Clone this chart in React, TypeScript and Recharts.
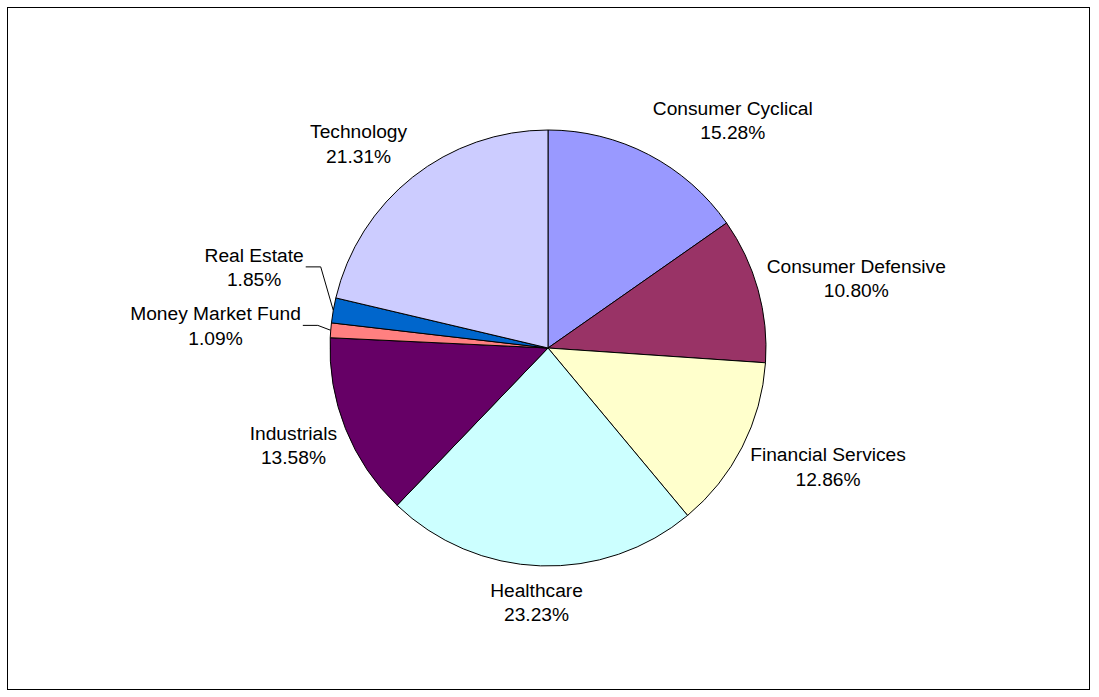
import React from "react";
import { Cell, Pie, PieChart } from "recharts";

const sectors = [
  "Consumer Cyclical",
  "Consumer Defensive",
  "Financial Services",
  "Healthcare",
  "Industrials",
  "Money Market Fund",
  "Real Estate",
  "Technology",
];
const weights = [15.28, 10.8, 12.86, 23.23, 13.58, 1.09, 1.85, 21.31];
const colors = ["#9999FF", "#993366", "#FFFFCC", "#CCFFFF", "#660066", "#FF8080", "#0066CC", "#CCCCFF"];

const data = sectors.map((name, i) => ({ name, value: weights[i] }));

const FONT_SIZE = 19.2;
const FONT_FAMILY = '"Liberation Sans", Arial, sans-serif';
const BOX_H = 46.5;
const RAD = Math.PI / 180;

let ctx: CanvasRenderingContext2D | null = null;
function textWidth(s: string) {
  if (!ctx) ctx = document.createElement("canvas").getContext("2d");
  if (!ctx) return s.length * 9.5;
  ctx.font = `${FONT_SIZE}px ${FONT_FAMILY}`;
  return ctx.measureText(s).width;
}

const clamp = (v: number) => Math.max(-1, Math.min(1, v));

type Box = { left: number; right: number; top: number; bottom: number; side: number };
const placed: Box[] = [];

function SliceLabel(props: any) {
  const { cx, cy, midAngle, outerRadius, index, name, value, percent } = props;
  const ux = Math.cos(midAngle * RAD);
  const uy = -Math.sin(midAngle * RAD);
  const px = cx + outerRadius * ux;
  const py = cy + outerRadius * uy;
  const small = percent < 0.025;
  const gapX = small ? 30 : 9;
  const gapY = small ? 30 : 13;
  const pct = `${Number(value).toFixed(2)}%`;
  const w = Math.max(textWidth(name), textWidth(pct));
  const bx = px + gapX * ux + (w / 2) * clamp(ux * 2.2);
  let by = py + gapY * uy + (BOX_H / 2) * clamp(uy * 1.3);
  const side = ux < 0 ? -1 : 1;

  // push apart from the previous label when they overlap
  const prev = index > 0 ? placed[index - 1] : undefined;
  if (prev && prev.side === side) {
    const hOverlap = bx - w / 2 < prev.right && bx + w / 2 > prev.left;
    if (hOverlap) {
      if (side < 0 && by + BOX_H / 2 > prev.top - 12) by = prev.top - 12 - BOX_H / 2;
      if (side > 0 && by - BOX_H / 2 < prev.bottom + 12) by = prev.bottom + 12 + BOX_H / 2;
    }
  }
  const top = by - BOX_H / 2;
  placed[index] = { left: bx - w / 2, right: bx + w / 2, top, bottom: by + BOX_H / 2, side };

  const edge = bx - side * (w / 2 + 2);
  return (
    <g>
      {small && (
        <polyline
          points={`${edge},${by} ${edge - side * 15},${by} ${px},${py}`}
          fill="none"
          stroke="#000"
          strokeWidth={1}
        />
      )}
      <text textAnchor="middle" fontFamily={FONT_FAMILY} fontSize={FONT_SIZE} fill="#000">
        <tspan x={bx} y={top + 18}>
          {name}
        </tspan>
        <tspan x={bx} y={top + 42.5}>
          {pct}
        </tspan>
      </text>
    </g>
  );
}

export default function App() {
  return (
    <div style={{ position: "absolute", left: 0, top: 0, width: 1099, height: 697, background: "#fff" }}>
      <div
        style={{
          position: "absolute",
          left: 7,
          top: 7,
          width: 1083,
          height: 683,
          border: "1px solid #000",
          boxSizing: "border-box",
        }}
      />
      <PieChart width={1099} height={697} margin={{ top: 0, right: 0, bottom: 0, left: 0 }}>
        <Pie
          data={data}
          dataKey="value"
          nameKey="name"
          cx={548}
          cy={348}
          outerRadius={218}
          startAngle={90}
          endAngle={-270}
          stroke="#000"
          strokeWidth={1}
          isAnimationActive={false}
          labelLine={false}
          label={(p: any) => <SliceLabel {...p} />}
        >
          {data.map((d, i) => (
            <Cell key={d.name} fill={colors[i]} />
          ))}
        </Pie>
      </PieChart>
    </div>
  );
}
